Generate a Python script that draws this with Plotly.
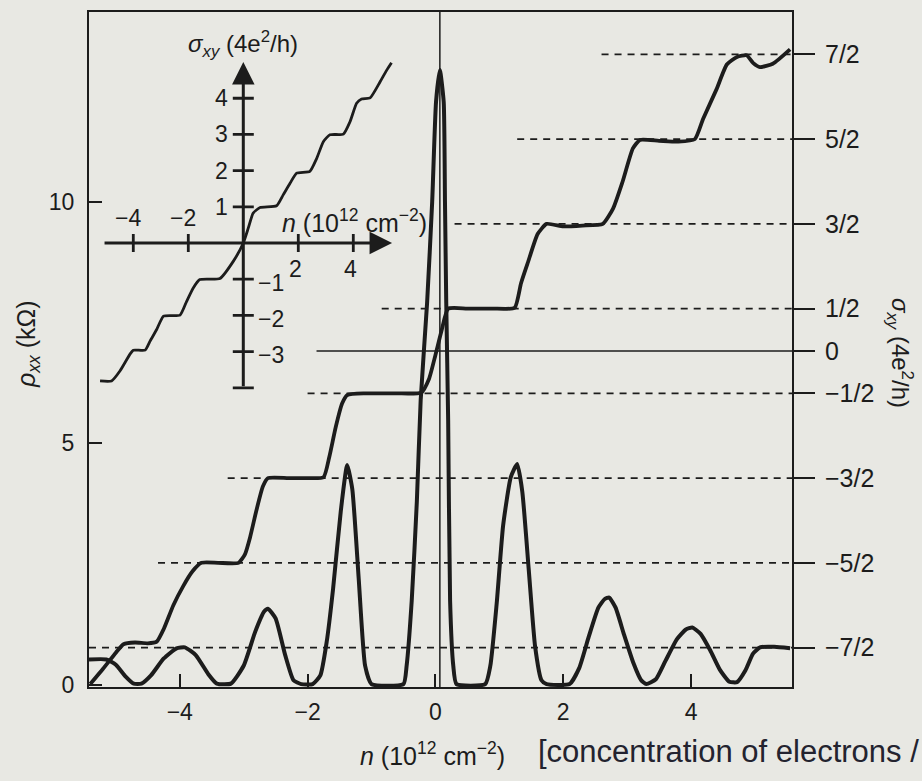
import plotly.graph_objects as go

DARK = '#1c1c1c'
BG = '#e8e8e3'
FONT = 'Liberation Sans'

# ---------------- data ----------------
# rho_xx (kOhm) versus n (1e12 cm^-2)
rho_n = [-5.42, -5.15, -5.0, -4.85, -4.72, -4.6, -4.45, -4.25, -4.05, -3.92, -3.75, -3.55, -3.42,
         -3.2, -3.0, -2.82, -2.68, -2.62, -2.5, -2.35, -2.22, -2.1, -1.92, -1.8, -1.7, -1.6, -1.48,
         -1.38, -1.3, -1.2, -1.1, -1.0, -0.5, -0.45, -0.37, -0.29, -0.23, -0.13, -0.05, 0.01, 0.07,
         0.13, 0.15, 0.17, 0.2, 0.23, 0.28, 0.33, 0.78, 0.86, 0.96, 1.06, 1.18, 1.28, 1.36, 1.46,
         1.56, 1.66, 1.74, 2.1, 2.25, 2.4, 2.55, 2.65, 2.72, 2.82, 2.95, 3.1, 3.22, 3.3, 3.45, 3.6,
         3.78, 3.92, 4.02, 4.15, 4.3, 4.45, 4.6, 4.72, 4.85, 4.97, 5.08, 5.3, 5.55]
rho_val = [0.53, 0.53, 0.42, 0.18, 0.03, 0.03, 0.2, 0.55, 0.76, 0.78, 0.62, 0.22, 0.03,
           0.03, 0.4, 1.1, 1.52, 1.58, 1.38, 0.62, 0.1, 0.02, 0.02, 0.2, 0.9, 2.0, 3.6,
           4.55, 4.05, 2.2, 0.4, 0.02, 0.02, 0.4, 1.75, 3.8, 5.9, 7.9, 10.0, 12.06, 12.72,
           12.06, 10.0, 7.9, 5.46, 1.75, 0.4, 0.02, 0.02, 0.4, 1.7, 3.3, 4.3, 4.57, 4.0, 2.4,
           0.8, 0.1, 0.02, 0.02, 0.35, 1.0, 1.6, 1.78, 1.81, 1.6, 1.05, 0.45, 0.1, 0.02, 0.12, 0.5,
           0.95, 1.15, 1.19, 1.06, 0.72, 0.32, 0.07, 0.06, 0.3, 0.65, 0.78, 0.79, 0.76]

# sigma_xy (4e^2/h) versus n, right axis
sig_n = [-5.40, -5.2, -5.0, -4.88, -4.7, -4.5, -4.36, -4.25, -4.1, -3.95, -3.8, -3.66, -3.4, -3.08,
         -2.98, -2.9, -2.8, -2.7, -2.62, -2.3, -2.0, -1.75, -1.66, -1.56, -1.46, -1.38, -1.1, -0.6,
         -0.22, -0.1, 0.0, 0.1, 0.2, 0.5, 0.9, 1.24, 1.34, 1.45, 1.6, 1.74, 2.0, 2.3, 2.62, 2.78,
         2.93, 3.09, 3.2, 3.5, 3.8, 4.06, 4.19, 4.4, 4.56, 4.72, 4.87, 4.97, 5.08, 5.28, 5.55]
sig_val = [-3.93, -3.75, -3.56, -3.46, -3.44, -3.45, -3.43, -3.28, -3.0, -2.78, -2.6, -2.5, -2.5, -2.5,
           -2.4, -2.2, -1.88, -1.6, -1.5, -1.5, -1.5, -1.49, -1.25, -0.9, -0.62, -0.52, -0.5, -0.5,
           -0.49, -0.33, -0.05, 0.25, 0.5, 0.5, 0.5, 0.51, 0.8, 1.05, 1.38, 1.5, 1.47, 1.48, 1.5, 1.68,
           2.0, 2.39, 2.49, 2.48, 2.47, 2.5, 2.74, 3.09, 3.38, 3.47, 3.49, 3.4, 3.35, 3.39, 3.56]

# inset: sigma_xy (4e^2/h) versus n
inset_n = [-5.21, -4.79, -4.48, -4.12, -4.0, -3.57, -3.39, -3.15, -2.90, -2.30, -2.06, -1.82, -1.58,
           -0.85, -0.36, 0.0, 0.18, 0.36, 0.61, 1.21, 1.45, 1.70, 1.94, 2.42, 2.67, 2.91, 3.15, 3.64,
           3.88, 4.12, 4.30, 4.61, 4.97, 5.21, 5.39]
inset_sig = [-3.81, -3.81, -3.53, -3.07, -2.96, -2.96, -2.71, -2.39, -2.02, -1.99, -1.61, -1.24, -1.01,
             -0.98, -0.50, 0.0, 0.41, 0.83, 0.98, 1.03, 1.33, 1.65, 1.93, 1.98, 2.34, 2.80, 2.99, 3.01,
             3.35, 3.86, 3.98, 4.01, 4.45, 4.77, 4.98]

plateau_levels = [3.5, 2.5, 1.5, 0.5, -0.5, -1.5, -2.5, -3.5]
plateau_start = [2.6, 1.28, 0.3, -0.84, -2.0, -3.25, -4.34, -5.42]
zero_level = 0
zero_start = -1.86
zero_line_n = 0.07

x_range = [-5.42, 5.58]
rho_range = [-0.04, 13.92]
sig_range = [-3.965, 4.0]

x_tick_vals = [-4, -2, 0, 2, 4]
x_tick_text = ['−4', '−2', '0', '2', '4']
left_tick_vals = [0, 5, 10]
right_tick_vals = [3.5, 2.5, 1.5, 0.5, 0, -0.5, -1.5, -2.5, -3.5]
right_tick_text = ['7/2', '5/2', '3/2', '1/2', '0', '−1/2', '−3/2', '−5/2', '−7/2']

inset_x_ticks = [-4, -2, 2, 4]
inset_x_text = ['−4', '−2', '2', '4']
inset_y_ticks = [4, 3, 2, 1, -1, -2, -3, -4]
inset_y_text = ['4', '3', '2', '1', '−1', '−2', '−3', '']
inset_x_axis = [-5.1, 5.41]
inset_y_axis = [-4.0, 5.0]

# ---------------- layout helpers (screen pixels) ----------------
L, R, T, B = 89, 792, 10, 687
W, H = 922, 781


def pxx(x):
    return (x - L) / (R - L)


def pyy(y):
    return (B - y) / (B - T)


fig = go.Figure()

# dashed plateau guide lines
for lvl, st in zip(plateau_levels, plateau_start):
    fig.add_trace(go.Scatter(x=[st, x_range[1]], y=[lvl, lvl], yaxis='y2', mode='lines',
                             line=dict(color=DARK, width=1.8, dash='7px,6px'),
                             hoverinfo='skip', showlegend=False))
fig.add_trace(go.Scatter(x=[zero_start, x_range[1]], y=[zero_level, zero_level], yaxis='y2',
                         mode='lines', line=dict(color=DARK, width=1.5),
                         hoverinfo='skip', showlegend=False))

# main curves
fig.add_trace(go.Scatter(x=rho_n, y=rho_val, mode='lines', yaxis='y',
                         line=dict(color=DARK, width=4, shape='spline', smoothing=0.5),
                         showlegend=False))
fig.add_trace(go.Scatter(x=sig_n, y=sig_val, mode='lines', yaxis='y2',
                         line=dict(color=DARK, width=3.8, shape='spline', smoothing=0.5),
                         showlegend=False))

# inset curve
fig.add_trace(go.Scatter(x=inset_n, y=inset_sig, mode='lines', xaxis='x3', yaxis='y3',
                         line=dict(color=DARK, width=2.8, shape='spline', smoothing=0.5),
                         showlegend=False))
# inset tick marks
fig.add_trace(go.Scatter(x=inset_x_ticks, y=[0] * len(inset_x_ticks), mode='markers',
                         xaxis='x3', yaxis='y3',
                         marker=dict(symbol='line-ns', size=13, line=dict(color=DARK, width=2.8)),
                         showlegend=False, hoverinfo='skip'))
fig.add_trace(go.Scatter(x=[0] * len(inset_y_ticks), y=inset_y_ticks, mode='markers',
                         xaxis='x3', yaxis='y3',
                         marker=dict(symbol='line-ew', size=15, line=dict(color=DARK, width=2.8)),
                         showlegend=False, hoverinfo='skip'))

ann = []
tf = dict(family=FONT, size=23, color=DARK)
# inset axes arrows
ann.append(dict(x=inset_x_axis[1], y=0, ax=inset_x_axis[0], ay=0, xref='x3', yref='y3',
                axref='x3', ayref='y3', text='', showarrow=True, arrowhead=2, arrowsize=1.5,
                arrowwidth=3, arrowcolor=DARK))
ann.append(dict(x=0, y=inset_y_axis[1], ax=0, ay=inset_y_axis[0], xref='x3', yref='y3',
                axref='x3', ayref='y3', text='', showarrow=True, arrowhead=2, arrowsize=1.5,
                arrowwidth=3, arrowcolor=DARK))
# inset tick labels
for v, t in zip(inset_x_ticks, inset_x_text):
    if v < 0:
        ann.append(dict(x=v - 0.2, y=0.7, xref='x3', yref='y3', text=t, showarrow=False,
                        xanchor='center', yanchor='middle', font=tf))
    else:
        ann.append(dict(x=v - 0.1, y=-0.72, xref='x3', yref='y3', text=t, showarrow=False,
                        xanchor='center', yanchor='middle', font=tf))
for v, t in zip(inset_y_ticks, inset_y_text):
    if not t:
        continue
    if v > 0:
        ann.append(dict(x=-0.5, y=v, xref='x3', yref='y3', text=t, showarrow=False,
                        xanchor='right', yanchor='middle', font=tf))
    else:
        ann.append(dict(x=0.45, y=v - 0.1, xref='x3', yref='y3', text=t, showarrow=False,
                        xanchor='left', yanchor='middle', font=tf))
# inset titles
ann.append(dict(x=0, y=5.5, xref='x3', yref='y3', xanchor='center', yanchor='middle',
                text='<i>σ</i><sub><i>xy</i></sub> (4e<sup>2</sup>/h)',
                showarrow=False, font=dict(family=FONT, size=24, color=DARK)))
ann.append(dict(x=1.33, y=0.62, xref='x3', yref='y3', xanchor='left', yanchor='middle',
                text='<i>n</i> (10<sup>12</sup> cm<sup>−2</sup>)',
                showarrow=False, font=dict(family=FONT, size=25, color=DARK)))

# main axis titles
ann.append(dict(x=pxx(28), y=pyy(343), xref='paper', yref='paper', textangle=-90,
                xanchor='center', yanchor='middle',
                text='<i>ρ</i><sub><i>xx</i></sub> (kΩ)', showarrow=False,
                font=dict(family=FONT, size=25, color=DARK)))
ann.append(dict(x=pxx(900), y=pyy(352), xref='paper', yref='paper', textangle=90,
                xanchor='center', yanchor='middle',
                text='<i>σ</i><sub><i>xy</i></sub> (4e<sup>2</sup>/h)', showarrow=False,
                font=dict(family=FONT, size=24, color=DARK)))
ann.append(dict(x=pxx(432), y=pyy(754), xref='paper', yref='paper',
                xanchor='center', yanchor='middle',
                text='<i>n</i> (10<sup>12</sup> cm<sup>−2</sup>)', showarrow=False,
                font=dict(family=FONT, size=25, color=DARK)))
ann.append(dict(x=pxx(536), y=pyy(752), xref='paper', yref='paper', xanchor='left',
                yanchor='middle',
                text='[concentration of electrons /', showarrow=False,
                font=dict(family=FONT, size=31, color='#23232f')))

fig.update_layout(
    width=W, height=H, autosize=False,
    margin=dict(l=L, r=W - R, t=T, b=H - B, pad=0),
    paper_bgcolor=BG, plot_bgcolor='rgba(0,0,0,0)',
    showlegend=False,
    font=dict(family=FONT, size=22, color=DARK),
    xaxis=dict(range=x_range, tickvals=x_tick_vals, ticktext=x_tick_text, ticks='inside',
               ticklen=13, tickwidth=2, tickcolor=DARK, showline=True, linewidth=2,
               linecolor=DARK, mirror=True, showgrid=False, zeroline=False,
               tickfont=dict(size=23), ticklabelstandoff=3),
    yaxis=dict(range=rho_range, tickvals=left_tick_vals, ticks='inside', ticklen=13,
               tickwidth=2, tickcolor=DARK, showline=True, linewidth=2, linecolor=DARK,
               mirror=True, showgrid=False, zeroline=False, tickfont=dict(size=23),
               ticklabelstandoff=8),
    yaxis2=dict(range=sig_range, overlaying='y', side='right', tickvals=right_tick_vals,
                ticktext=right_tick_text, ticks='outside', ticklen=21, tickwidth=2,
                tickcolor=DARK, showline=True, linewidth=2, linecolor=DARK, showgrid=False,
                zeroline=False, tickfont=dict(size=25), ticklabelstandoff=5),
    xaxis3=dict(domain=[pxx(95), pxx(420)], range=[(95 - 243.3) / 27.5, (420 - 243.3) / 27.5],
                anchor='y3', visible=False),
    yaxis3=dict(domain=[pyy(400), pyy(30)], range=[(241.7 - 400) / 36.3, (241.7 - 30) / 36.3],
                anchor='x3', visible=False),
    shapes=[dict(type='line', xref='x', yref='paper', x0=zero_line_n, x1=zero_line_n, y0=0, y1=1,
                 line=dict(color=DARK, width=1.5))],
    annotations=ann,
)

fig.write_html('out.html', config={'displayModeBar': False},
               post_script="document.body.style.margin='0';document.body.style.background='%s';" % BG)
